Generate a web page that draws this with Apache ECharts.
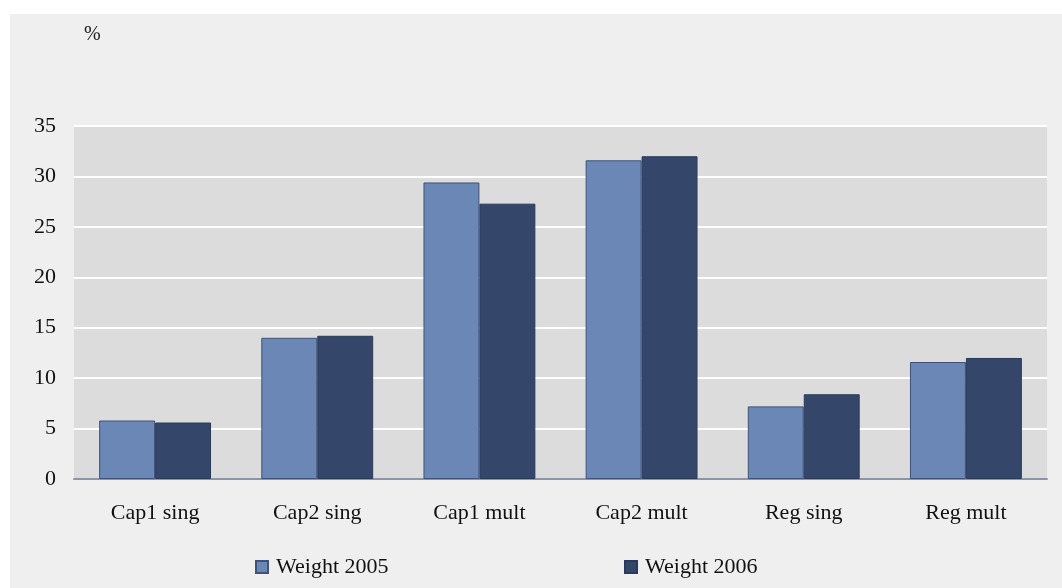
<!DOCTYPE html>
<html>
<head>
<meta charset="utf-8">
<script src="https://cdn.jsdelivr.net/npm/echarts@6/dist/echarts.min.js"></script>
<style>
html,body{margin:0;padding:0;background:#ffffff;}
#bg{position:absolute;left:10px;top:14px;width:1052px;height:574px;background:#efefef;}
#chart{position:absolute;left:0;top:0;width:1062px;height:588px;}
</style>
</head>
<body>
<div id="bg"></div>
<div id="chart"></div>
<script>
const categories = ['Cap1 sing', 'Cap2 sing', 'Cap1 mult', 'Cap2 mult', 'Reg sing', 'Reg mult'];
const weight2005 = [5.8, 14.0, 29.4, 31.6, 7.2, 11.6];
const weight2006 = [5.6, 14.2, 27.3, 32.0, 8.4, 12.0];
const seriesNames = ['Weight 2005', 'Weight 2006'];
const yTicks = { min: 0, max: 35, interval: 5 };

const font = '"Liberation Serif", "DejaVu Serif", serif';
const chart = echarts.init(document.getElementById('chart'), null, { renderer: 'canvas' });
chart.setOption({
  backgroundColor: 'transparent',
  animation: false,
  title: {
    text: '%', left: 79, top: 20,
    textStyle: { fontFamily: font, fontSize: 20, fontWeight: 'normal', color: '#222' }
  },
  grid: {
    left: 74, top: 126, right: 15, bottom: 109,
    show: true, backgroundColor: '#dcdcdc', borderWidth: 0
  },
  legend: [
    {
      data: [seriesNames[0]], left: 250, top: 551, itemWidth: 12, itemHeight: 12,
      icon: 'rect', selectedMode: false,
      textStyle: { fontFamily: font, fontSize: 22, color: '#111', padding: [0, 0, 0, 3] }
    },
    {
      data: [seriesNames[1]], left: 619, top: 551, itemWidth: 12, itemHeight: 12,
      icon: 'rect', selectedMode: false,
      textStyle: { fontFamily: font, fontSize: 22, color: '#111', padding: [0, 0, 0, 3] }
    }
  ],
  xAxis: {
    type: 'category', data: categories,
    axisTick: { show: false },
    axisLine: { show: true, lineStyle: { color: '#8c95a8', width: 2 } },
    axisLabel: { fontFamily: font, fontSize: 22, color: '#111', margin: 23 },
    splitLine: { show: false }
  },
  yAxis: {
    type: 'value', min: yTicks.min, max: yTicks.max, interval: yTicks.interval,
    axisTick: { show: false },
    axisLine: { show: false },
    axisLabel: { fontFamily: font, fontSize: 22, color: '#111', margin: 18 },
    splitLine: { show: true, lineStyle: { color: '#ffffff', width: 2 } }
  },
  series: [
    {
      name: seriesNames[0], type: 'bar', data: weight2005,
      barGap: '0%', barCategoryGap: '31%',
      itemStyle: { color: '#6b87b6', borderColor: '#3f5279', borderWidth: 1 }
    },
    {
      name: seriesNames[1], type: 'bar', data: weight2006,
      barGap: '0%', barCategoryGap: '31%',
      itemStyle: { color: '#34476a', borderColor: '#2a3a5a', borderWidth: 1 }
    }
  ]
});
</script>
</body>
</html>
